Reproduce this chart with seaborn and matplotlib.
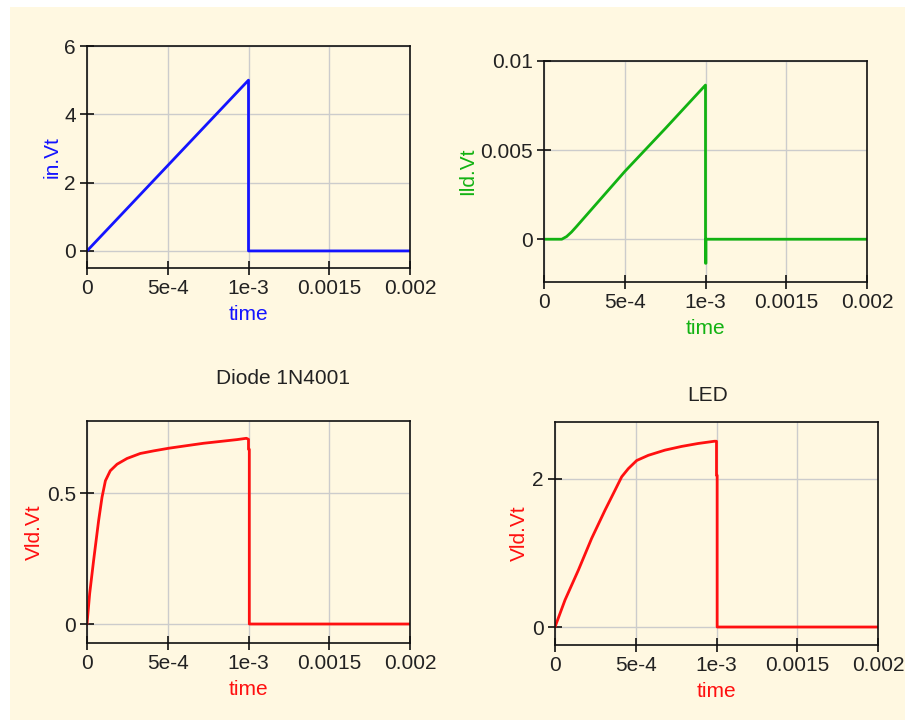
import matplotlib
matplotlib.use("Agg")
import matplotlib.pyplot as plt
import seaborn as sns
from matplotlib.patches import Rectangle

# ----------------------------------------------------------
# Data
# ----------------------------------------------------------

t_in = [0, 1.0e-3, 1.0e-3, 2.0e-3]
v_in = [0, 5.0, 0, 0]

t_ild = [0, 1.1e-4, 1.4e-4, 1.7e-4, 2.0e-4, 5.0e-4, 7.5e-4, 1.0e-3, 1.0e-3, 1.003e-3, 1.003e-3, 2.0e-3]
i_ild = [0, 0, 0.00015, 0.0004, 0.0007, 0.0038, 0.0062, 0.00865, -0.00135, -0.00135, 0, 0]

t_diode = [0, 1.65e-5, 4.1e-5, 7.2e-5, 9.3e-5, 1.14e-4, 1.44e-4, 1.86e-4, 2.48e-4, 3.3e-4,
           4.13e-4, 5.06e-4, 6.19e-4, 7.22e-4, 8.26e-4, 9.29e-4, 9.87e-4, 1.0e-3, 1.0e-3,
           1.005e-3, 1.005e-3, 2.0e-3]
v_diode = [0, 0.116, 0.243, 0.395, 0.484, 0.547, 0.585, 0.61, 0.632, 0.651,
           0.661, 0.671, 0.681, 0.69, 0.697, 0.704, 0.709, 0.705, 0.667,
           0.667, 0, 0]

t_led = [0, 6.2e-5, 1.45e-4, 2.27e-4, 3.1e-4, 3.72e-4, 4.13e-4, 4.54e-4, 5.06e-4, 5.78e-4,
         6.81e-4, 7.84e-4, 8.87e-4, 9.87e-4, 1.0e-3, 1.0e-3, 1.004e-3, 1.004e-3, 2.0e-3]
v_led = [0, 0.365, 0.77, 1.198, 1.58, 1.85, 2.03, 2.14, 2.25, 2.32,
         2.39, 2.44, 2.48, 2.51, 2.51, 2.05, 2.05, 0, 0]

x_ticks = [0, 5e-4, 1e-3, 1.5e-3, 2e-3]
x_ticklabels = ["0", "5e-4", "1e-3", "0.0015", "0.002"]

# ----------------------------------------------------------
# Style
# ----------------------------------------------------------

sns.set_style("whitegrid")
plt.rcParams["font.family"] = ["Liberation Sans", "DejaVu Sans"]

cream = "#fff8e1"
blue = "#1414ff"
green = "#12b212"
red = "#ff1010"

fig = plt.figure(figsize=(9.05, 7.2), dpi=100)
fig.patch.set_facecolor("white")
fig.patches.append(Rectangle((10 / 905, 0), 1, 713 / 720, transform=fig.transFigure,
                             facecolor=cream, edgecolor="none", zorder=-10))


def make_axes(rect, t, y, color, ylabel, ylim, yticks, yticklabels):
    ax = fig.add_axes(rect)
    ax.set_facecolor(cream)
    sns.lineplot(x=t, y=y, ax=ax, color=color, linewidth=2, sort=False, estimator=None)
    ax.set_xlim(0, 0.002)
    ax.set_ylim(*ylim)
    ax.set_xticks(x_ticks)
    ax.set_xticklabels(x_ticklabels)
    ax.set_yticks(yticks)
    ax.set_yticklabels(yticklabels)
    ax.grid(True, color="#cccccc", linewidth=1)
    for s in ax.spines.values():
        s.set_color("#111111")
        s.set_linewidth(1.2)
    ax.tick_params(axis="both", direction="inout", length=10, width=1.2, color="#111111",
                   labelsize=15, labelcolor="#222222", pad=3, bottom=True, left=True)
    ax.set_xlabel("time", color=color, fontsize=15, labelpad=5)
    ax.set_ylabel(ylabel, color=color, fontsize=15, labelpad=2)
    return ax


ax1 = make_axes([87 / 905, 452 / 720, 323 / 905, 222 / 720], t_in, v_in, blue, "in.Vt",
                (-0.5, 6), [0, 2, 4, 6], ["0", "2", "4", "6"])
ax2 = make_axes([544 / 905, 438 / 720, 323 / 905, 221 / 720], t_ild, i_ild, green, "Ild.Vt",
                (-0.0024, 0.01), [0, 0.005, 0.01], ["0", "0.005", "0.01"])
ax3 = make_axes([87 / 905, 77 / 720, 323 / 905, 222 / 720], t_diode, v_diode, red, "Vld.Vt",
                (-0.0725, 0.775), [0, 0.5], ["0", "0.5"])
ax4 = make_axes([555 / 905, 75 / 720, 323 / 905, 223 / 720], t_led, v_led, red, "Vld.Vt",
                (-0.243, 2.77), [0, 2], ["0", "2"])

fig.text(283 / 905, 1 - 378 / 720, "Diode 1N4001", ha="center", va="center",
         fontsize=15, color="#222222")
fig.text(708 / 905, 1 - 395 / 720, "LED", ha="center", va="center",
         fontsize=15, color="#222222")

plt.savefig("out.png", dpi=100, facecolor=fig.get_facecolor())
plt.close()
